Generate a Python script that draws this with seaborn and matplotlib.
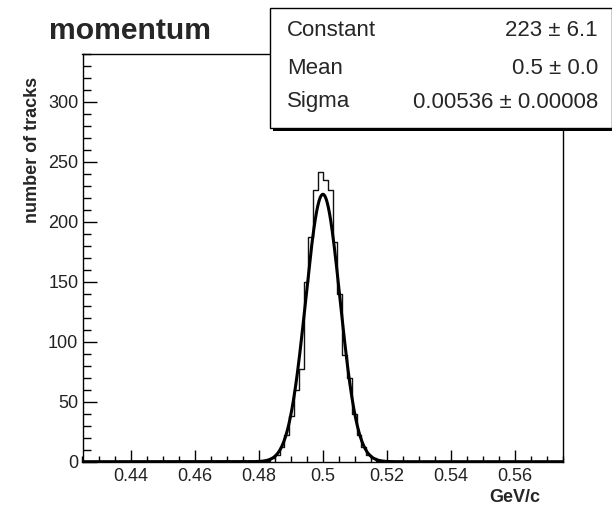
import numpy as np
import pandas as pd
import matplotlib
matplotlib.use("Agg")
import matplotlib.pyplot as plt
import seaborn as sns
from matplotlib.patches import Rectangle
from matplotlib.ticker import MultipleLocator

# Histogram binning: 100 equal bins over [0.425, 0.575] GeV/c
x_lo, x_hi, n_bins = 0.425, 0.575, 100
first_filled_bin = 38
filled_counts = [1, 3, 6, 12, 22, 38, 60, 77, 150, 187, 227, 242,
                 235, 227, 183, 140, 89, 70, 40, 22, 12, 6, 3, 1]

# Gaussian fit parameters
fit_constant = 223.0
fit_mean = 0.5
fit_sigma = 0.00536

stat_labels = ["Constant", "Mean", "Sigma"]
stat_values = ["223 \u00b1 6.1", "0.5 \u00b1 0.0", "0.00536 \u00b1 0.00008"]

x_ticks = [0.44, 0.46, 0.48, 0.50, 0.52, 0.54, 0.56]
x_tick_labels = ["0.44", "0.46", "0.48", "0.5", "0.52", "0.54", "0.56"]
y_ticks = [0, 50, 100, 150, 200, 250, 300]
y_max = 340

sns.set_style("white")
plt.rcParams["font.family"] = ["Liberation Sans", "DejaVu Sans"]

W, H = 612, 505
fig = plt.figure(figsize=(W / 100, H / 100), dpi=100)


def fx(px):
    return px / W


def fy(py):
    return 1 - py / H


ax = fig.add_axes([fx(82.5), fy(461.7), fx(563.3) - fx(82.5), fy(54) - fy(461.7)])

edges = np.linspace(x_lo, x_hi, n_bins + 1)
centers = 0.5 * (edges[:-1] + edges[1:])
counts = np.zeros(n_bins)
counts[first_filled_bin:first_filled_bin + len(filled_counts)] = filled_counts
hist_df = pd.DataFrame({"p": centers, "n": counts})

sns.histplot(data=hist_df, x="p", weights="n", bins=n_bins,
             binrange=(x_lo, x_hi), element="step",
             fill=False, color="#111111", linewidth=1.0, ax=ax)

xs = np.linspace(x_lo, x_hi, 1200)
fit_df = pd.DataFrame({
    "p": xs,
    "f": fit_constant * np.exp(-0.5 * ((xs - fit_mean) / fit_sigma) ** 2),
})
sns.lineplot(data=fit_df, x="p", y="f", color="black", linewidth=2.2,
             estimator=None, ax=ax)

ax.set_xlim(x_lo, x_hi)
ax.set_ylim(0, y_max)
ax.set_xticks(x_ticks)
ax.set_xticklabels(x_tick_labels)
ax.set_yticks(y_ticks)
ax.xaxis.set_minor_locator(MultipleLocator(0.005))
ax.yaxis.set_minor_locator(MultipleLocator(10))
ax.tick_params(which="both", direction="in", bottom=True, left=True,
               top=False, right=False, width=1, colors="black",
               labelsize=13, labelcolor="#222222")
ax.tick_params(axis="x", which="major", length=8.6, pad=4.5)
ax.tick_params(axis="x", which="minor", length=4.0)
ax.tick_params(axis="y", which="major", length=10, pad=3)
ax.tick_params(axis="y", which="minor", length=5.5)
ax.set_xlabel("")
ax.set_ylabel("")
for s in ax.spines.values():
    s.set_visible(True)
    s.set_color("black")
    s.set_linewidth(1)

fig.text(fx(49), fy(31), "momentum", fontsize=21.7, fontweight="bold",
         va="center", ha="left")
fig.text(fx(33), fy(150), "number of tracks", fontsize=13, fontweight="bold",
         rotation=90, va="center", ha="center")
fig.text(fx(540), fy(497), "GeV/c", fontsize=13, fontweight="bold",
         va="center", ha="right")

# Fit statistics box with drop shadow
box_l, box_t, box_r, box_b = 270, 8, 612, 128
fig.add_artist(Rectangle((fx(box_l + 3), fy(box_b + 3)),
                         fx(box_r) - fx(box_l), fy(box_t) - fy(box_b),
                         transform=fig.transFigure, facecolor="black",
                         edgecolor="none", zorder=5))
fig.add_artist(Rectangle((fx(box_l), fy(box_b)),
                         fx(box_r) - fx(box_l), fy(box_t) - fy(box_b),
                         transform=fig.transFigure, facecolor="white",
                         edgecolor="black", linewidth=1, zorder=6))
row_y = [30, 68, 102]
for lab, val, ry in zip(stat_labels, stat_values, row_y):
    fig.text(fx(287), fy(ry), lab, fontsize=16, va="center", ha="left", zorder=7)
    fig.text(fx(598), fy(ry), val, fontsize=16, va="center", ha="right", zorder=7)

fig.savefig("out.png", dpi=100, facecolor="white")
